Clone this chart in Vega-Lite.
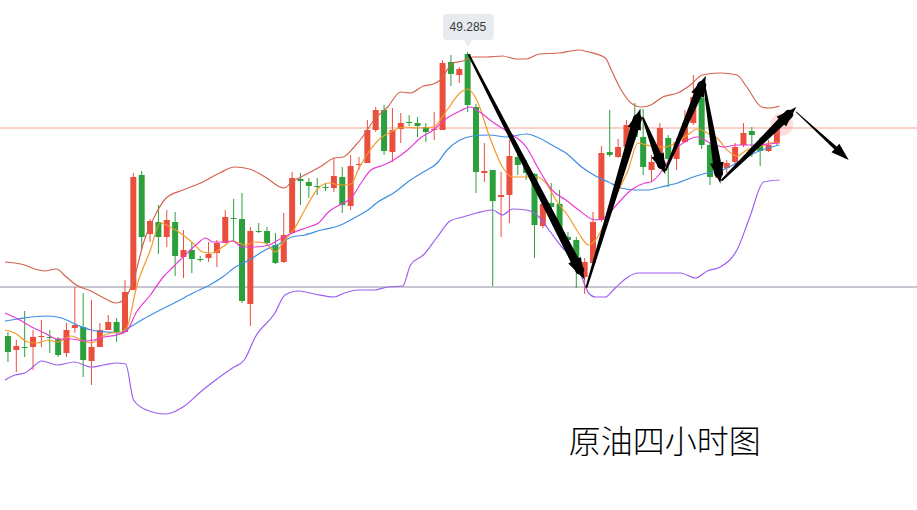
{
"$schema":"https://vega.github.io/schema/vega-lite/v6.json",
"width":917,"height":510,"padding":0,"autosize":{"type":"none"},"background":"white",
"config":{"view":{"stroke":null}},
"resolve":{"scale":{"color":"independent","size":"independent"}},
"datasets":{
"levels":[{"lvl":"resist","v":48.525},{"lvl":"support","v":46.935}],
"candles":[
{"i":0,"o":46.445,"h":46.485,"l":46.185,"c":46.285},{"i":1,"o":46.305,"h":46.405,"l":46.085,"c":46.345},{"i":2,"o":46.335,"h":46.695,"l":46.235,"c":46.325},{"i":3,"o":46.335,"h":46.505,"l":46.105,"c":46.435},{"i":4,"o":46.435,"h":46.605,"l":46.335,"c":46.445},{"i":5,"o":46.435,"h":46.505,"l":46.275,"c":46.425},{"i":6,"o":46.415,"h":46.435,"l":46.235,"c":46.255},{"i":7,"o":46.275,"h":46.575,"l":46.235,"c":46.505},{"i":8,"o":46.525,"h":46.935,"l":46.475,"c":46.555},{"i":9,"o":46.535,"h":46.875,"l":46.035,"c":46.205},
{"i":10,"o":46.195,"h":46.805,"l":45.955,"c":46.335},{"i":11,"o":46.335,"h":46.575,"l":46.335,"c":46.505},{"i":12,"o":46.505,"h":46.655,"l":46.505,"c":46.585},{"i":13,"o":46.585,"h":46.625,"l":46.385,"c":46.485},{"i":14,"o":46.485,"h":47.005,"l":46.485,"c":46.885},{"i":15,"o":46.905,"h":48.075,"l":46.905,"c":48.035},{"i":16,"o":48.055,"h":48.095,"l":47.305,"c":47.435},{"i":17,"o":47.465,"h":47.615,"l":47.385,"c":47.595},{"i":18,"o":47.585,"h":47.755,"l":47.265,"c":47.435},{"i":19,"o":47.435,"h":47.705,"l":47.335,"c":47.605},
{"i":20,"o":47.585,"h":47.685,"l":47.045,"c":47.245},{"i":21,"o":47.235,"h":47.505,"l":47.025,"c":47.305},{"i":22,"o":47.305,"h":47.385,"l":47.075,"c":47.215},{"i":23,"o":47.215,"h":47.245,"l":47.185,"c":47.205},{"i":24,"o":47.225,"h":47.385,"l":47.185,"c":47.265},{"i":25,"o":47.275,"h":47.405,"l":47.135,"c":47.375},{"i":26,"o":47.375,"h":47.705,"l":47.375,"c":47.635},{"i":27,"o":47.625,"h":47.815,"l":47.385,"c":47.615},{"i":28,"o":47.615,"h":47.875,"l":46.775,"c":46.795},{"i":29,"o":46.765,"h":47.535,"l":46.545,"c":47.495},
{"i":30,"o":47.495,"h":47.575,"l":47.475,"c":47.485},{"i":31,"o":47.495,"h":47.535,"l":47.355,"c":47.375},{"i":32,"o":47.355,"h":47.475,"l":47.165,"c":47.175},{"i":33,"o":47.185,"h":47.675,"l":47.175,"c":47.455},{"i":34,"o":47.475,"h":48.085,"l":47.475,"c":48.025},{"i":35,"o":48.015,"h":48.075,"l":47.755,"c":47.995},{"i":36,"o":47.985,"h":48.025,"l":47.825,"c":47.945},{"i":37,"o":47.945,"h":48.025,"l":47.855,"c":47.935},{"i":38,"o":47.935,"h":47.975,"l":47.895,"c":47.925},{"i":39,"o":47.925,"h":48.225,"l":47.885,"c":48.045},
{"i":40,"o":48.035,"h":48.135,"l":47.675,"c":47.755},{"i":41,"o":47.745,"h":48.255,"l":47.705,"c":48.145},{"i":42,"o":48.155,"h":48.235,"l":48.105,"c":48.165},{"i":43,"o":48.175,"h":48.605,"l":48.175,"c":48.505},{"i":44,"o":48.505,"h":48.735,"l":48.485,"c":48.705},{"i":45,"o":48.705,"h":48.755,"l":48.255,"c":48.295},{"i":46,"o":48.285,"h":48.725,"l":48.185,"c":48.505},{"i":47,"o":48.515,"h":48.675,"l":48.375,"c":48.575},{"i":48,"o":48.585,"h":48.655,"l":48.545,"c":48.575},{"i":49,"o":48.575,"h":48.635,"l":48.435,"c":48.545},
{"i":50,"o":48.535,"h":48.575,"l":48.385,"c":48.485},{"i":51,"o":48.505,"h":48.685,"l":48.405,"c":48.515},{"i":52,"o":48.505,"h":49.205,"l":48.505,"c":49.175},{"i":53,"o":49.185,"h":49.255,"l":48.945,"c":49.065},{"i":54,"o":49.055,"h":49.135,"l":48.975,"c":49.115},{"i":55,"o":49.265,"h":49.285,"l":48.685,"c":48.755},{"i":56,"o":48.735,"h":48.765,"l":47.875,"c":48.085},{"i":57,"o":48.075,"h":48.375,"l":47.985,"c":48.095},{"i":58,"o":48.105,"h":48.105,"l":46.945,"c":47.795},{"i":59,"o":47.835,"h":48.085,"l":47.435,"c":47.855},
{"i":60,"o":47.855,"h":48.405,"l":47.575,"c":48.245},{"i":61,"o":48.235,"h":48.335,"l":48.055,"c":48.155},{"i":62,"o":48.135,"h":48.205,"l":48.005,"c":48.075},{"i":63,"o":48.065,"h":48.075,"l":47.225,"c":47.555},{"i":64,"o":47.545,"h":47.805,"l":47.525,"c":47.765},{"i":65,"o":47.775,"h":47.975,"l":47.605,"c":47.735},{"i":66,"o":47.765,"h":47.905,"l":47.455,"c":47.485},{"i":67,"o":47.435,"h":47.485,"l":47.305,"c":47.405},{"i":68,"o":47.405,"h":47.435,"l":46.925,"c":47.125},{"i":69,"o":47.035,"h":47.225,"l":46.865,"c":47.185},
{"i":70,"o":47.175,"h":47.685,"l":47.175,"c":47.585},{"i":71,"o":47.605,"h":48.345,"l":47.585,"c":48.275},{"i":72,"o":48.285,"h":48.705,"l":48.235,"c":48.255},{"i":73,"o":48.235,"h":48.415,"l":48.225,"c":48.335},{"i":74,"o":48.335,"h":48.605,"l":48.305,"c":48.555},{"i":75,"o":48.535,"h":48.775,"l":48.405,"c":48.435},{"i":76,"o":48.435,"h":48.715,"l":48.055,"c":48.135},{"i":77,"o":48.105,"h":48.255,"l":47.985,"c":48.185},{"i":78,"o":48.205,"h":48.575,"l":48.185,"c":48.525},{"i":79,"o":48.425,"h":48.455,"l":47.935,"c":48.215},
{"i":80,"o":48.215,"h":48.425,"l":48.105,"c":48.385},{"i":81,"o":48.385,"h":48.705,"l":48.375,"c":48.575},{"i":82,"o":48.575,"h":49.055,"l":48.555,"c":48.835},{"i":83,"o":48.825,"h":48.935,"l":48.315,"c":48.355},{"i":84,"o":48.355,"h":48.375,"l":47.955,"c":48.035},{"i":85,"o":48.025,"h":48.155,"l":48.005,"c":48.105},{"i":86,"o":48.125,"h":48.205,"l":48.075,"c":48.175},{"i":87,"o":48.185,"h":48.375,"l":48.155,"c":48.335},{"i":88,"o":48.355,"h":48.575,"l":48.335,"c":48.475},{"i":89,"o":48.495,"h":48.535,"l":48.235,"c":48.455},
{"i":90,"o":48.375,"h":48.435,"l":48.145,"c":48.295},{"i":91,"o":48.295,"h":48.405,"l":48.285,"c":48.355},{"i":92,"o":48.375,"h":48.585,"l":48.355,"c":48.535}
],
"bands":[
{"s":"upper","i":-0.36,"v":47.185},{"s":"upper","i":0.83,"v":47.175},{"s":"upper","i":2.01,"v":47.155},{"s":"upper","i":3.2,"v":47.115},{"s":"upper","i":4.38,"v":47.095},{"s":"upper","i":5.8,"v":47.115},{"s":"upper","i":6.98,"v":47.035},{"s":"upper","i":8.17,"v":46.955},{"s":"upper","i":9.94,"v":46.895},{"s":"upper","i":11.48,"v":46.825},{"s":"upper","i":12.9,"v":46.775},{"s":"upper","i":13.85,"v":46.805},{"s":"upper","i":15.03,"v":47.005},{"s":"upper","i":16.21,"v":47.375},{"s":"upper","i":17.75,"v":47.675},{"s":"upper","i":18.93,"v":47.825},{"s":"upper","i":20.95,"v":47.905},{"s":"upper","i":23.31,"v":47.985},{"s":"upper","i":25.33,"v":48.075},{"s":"upper","i":27.1,"v":48.135},{"s":"upper","i":28.88,"v":48.115},{"s":"upper","i":30.77,"v":48.035},{"s":"upper","i":33.02,"v":47.925},{"s":"upper","i":33.96,"v":47.985},{"s":"upper","i":35.98,"v":48.075},{"s":"upper","i":37.51,"v":48.145},{"s":"upper","i":39.05,"v":48.225},{"s":"upper","i":40.12,"v":48.235},{"s":"upper","i":41.42,"v":48.335},{"s":"upper","i":42.6,"v":48.455},{"s":"upper","i":43.79,"v":48.605},{"s":"upper","i":45.44,"v":48.735},{"s":"upper","i":46.98,"v":48.885},{"s":"upper","i":48.17,"v":48.875},{"s":"upper","i":49.7,"v":48.945},{"s":"upper","i":50.89,"v":48.965},{"s":"upper","i":51.72,"v":49.005},{"s":"upper","i":53.25,"v":49.175},{"s":"upper","i":54.44,"v":49.195},{"s":"upper","i":55.62,"v":49.235},{"s":"upper","i":57.28,"v":49.235},{"s":"upper","i":59.17,"v":49.245},{"s":"upper","i":60.83,"v":49.215},{"s":"upper","i":62.01,"v":49.215},{"s":"upper","i":63.55,"v":49.265},{"s":"upper","i":65.92,"v":49.275},{"s":"upper","i":68.28,"v":49.305},{"s":"upper","i":69.47,"v":49.285},{"s":"upper","i":71.48,"v":49.225},{"s":"upper","i":72.19,"v":49.105},{"s":"upper","i":73.37,"v":48.905},{"s":"upper","i":74.56,"v":48.775},{"s":"upper","i":75.74,"v":48.735},{"s":"upper","i":76.92,"v":48.755},{"s":"upper","i":78.34,"v":48.835},{"s":"upper","i":80.12,"v":48.875},{"s":"upper","i":81.66,"v":48.955},{"s":"upper","i":83.08,"v":49.055},{"s":"upper","i":85.21,"v":49.075},{"s":"upper","i":87.22,"v":49.055},{"s":"upper","i":88.4,"v":48.935},{"s":"upper","i":90.18,"v":48.735},{"s":"upper","i":91.12,"v":48.725},{"s":"upper","i":92.31,"v":48.745},
{"s":"mid","i":-0.36,"v":46.595},{"s":"mid","i":1.18,"v":46.615},{"s":"mid","i":2.84,"v":46.635},{"s":"mid","i":4.73,"v":46.645},{"s":"mid","i":6.39,"v":46.625},{"s":"mid","i":8.28,"v":46.555},{"s":"mid","i":9.94,"v":46.505},{"s":"mid","i":11.83,"v":46.485},{"s":"mid","i":13.49,"v":46.475},{"s":"mid","i":14.44,"v":46.525},{"s":"mid","i":16.21,"v":46.615},{"s":"mid","i":18.22,"v":46.705},{"s":"mid","i":20.12,"v":46.785},{"s":"mid","i":22.13,"v":46.875},{"s":"mid","i":24.14,"v":46.955},{"s":"mid","i":25.68,"v":47.035},{"s":"mid","i":27.22,"v":47.135},{"s":"mid","i":28.88,"v":47.205},{"s":"mid","i":30.77,"v":47.305},{"s":"mid","i":32.43,"v":47.365},{"s":"mid","i":33.96,"v":47.435},{"s":"mid","i":35.5,"v":47.455},{"s":"mid","i":37.51,"v":47.505},{"s":"mid","i":39.53,"v":47.545},{"s":"mid","i":41.42,"v":47.625},{"s":"mid","i":43.08,"v":47.705},{"s":"mid","i":44.26,"v":47.785},{"s":"mid","i":46.15,"v":47.875},{"s":"mid","i":48.17,"v":48.005},{"s":"mid","i":49.7,"v":48.085},{"s":"mid","i":51.36,"v":48.175},{"s":"mid","i":52.54,"v":48.305},{"s":"mid","i":54.08,"v":48.405},{"s":"mid","i":55.62,"v":48.445},{"s":"mid","i":57.63,"v":48.455},{"s":"mid","i":59.64,"v":48.435},{"s":"mid","i":62.01,"v":48.465},{"s":"mid","i":63.55,"v":48.425},{"s":"mid","i":65.09,"v":48.355},{"s":"mid","i":66.75,"v":48.275},{"s":"mid","i":68.64,"v":48.135},{"s":"mid","i":70.3,"v":48.045},{"s":"mid","i":71.83,"v":47.985},{"s":"mid","i":73.37,"v":47.925},{"s":"mid","i":75.03,"v":47.905},{"s":"mid","i":76.57,"v":47.905},{"s":"mid","i":78.11,"v":47.935},{"s":"mid","i":80.12,"v":47.975},{"s":"mid","i":81.66,"v":48.025},{"s":"mid","i":83.67,"v":48.075},{"s":"mid","i":85.21,"v":48.095},{"s":"mid","i":86.04,"v":48.125},{"s":"mid","i":87.81,"v":48.205},{"s":"mid","i":89.59,"v":48.285},{"s":"mid","i":92.31,"v":48.355},
{"s":"lower","i":-0.36,"v":46.005},{"s":"lower","i":0.83,"v":46.055},{"s":"lower","i":2.01,"v":46.075},{"s":"lower","i":2.84,"v":46.125},{"s":"lower","i":4.02,"v":46.195},{"s":"lower","i":5.92,"v":46.155},{"s":"lower","i":7.93,"v":46.185},{"s":"lower","i":9.94,"v":46.135},{"s":"lower","i":11.48,"v":46.155},{"s":"lower","i":13.02,"v":46.175},{"s":"lower","i":14.08,"v":46.165},{"s":"lower","i":15.03,"v":45.805},{"s":"lower","i":16.57,"v":45.705},{"s":"lower","i":18.93,"v":45.665},{"s":"lower","i":20.95,"v":45.735},{"s":"lower","i":23.31,"v":45.905},{"s":"lower","i":25.33,"v":46.035},{"s":"lower","i":26.86,"v":46.125},{"s":"lower","i":28.28,"v":46.205},{"s":"lower","i":29.59,"v":46.435},{"s":"lower","i":31.95,"v":46.675},{"s":"lower","i":33.14,"v":46.855},{"s":"lower","i":34.79,"v":46.895},{"s":"lower","i":36.69,"v":46.865},{"s":"lower","i":39.05,"v":46.835},{"s":"lower","i":40.24,"v":46.875},{"s":"lower","i":41.89,"v":46.905},{"s":"lower","i":43.79,"v":46.905},{"s":"lower","i":45.44,"v":46.935},{"s":"lower","i":47.22,"v":46.945},{"s":"lower","i":48.17,"v":47.155},{"s":"lower","i":49.7,"v":47.255},{"s":"lower","i":51.36,"v":47.435},{"s":"lower","i":52.9,"v":47.595},{"s":"lower","i":54.44,"v":47.635},{"s":"lower","i":56.09,"v":47.675},{"s":"lower","i":57.99,"v":47.705},{"s":"lower","i":59.17,"v":47.655},{"s":"lower","i":60.36,"v":47.715},{"s":"lower","i":62.01,"v":47.705},{"s":"lower","i":63.55,"v":47.635},{"s":"lower","i":64.73,"v":47.505},{"s":"lower","i":66.27,"v":47.335},{"s":"lower","i":67.93,"v":47.175},{"s":"lower","i":68.64,"v":47.035},{"s":"lower","i":69.47,"v":46.875},{"s":"lower","i":70.3,"v":46.835},{"s":"lower","i":71.48,"v":46.835},{"s":"lower","i":72.66,"v":46.925},{"s":"lower","i":74.2,"v":47.035},{"s":"lower","i":75.38,"v":47.075},{"s":"lower","i":78.58,"v":47.075},{"s":"lower","i":80.47,"v":47.075},{"s":"lower","i":82.25,"v":47.025},{"s":"lower","i":83.67,"v":47.095},{"s":"lower","i":85.21,"v":47.135},{"s":"lower","i":87.22,"v":47.305},{"s":"lower","i":88.76,"v":47.635},{"s":"lower","i":90.41,"v":47.985},{"s":"lower","i":92.31,"v":48.005},
{"s":"ma5","i":-0.36,"v":46.505},{"s":"ma5","i":0.83,"v":46.475},{"s":"ma5","i":2.37,"v":46.385},{"s":"ma5","i":3.55,"v":46.375},{"s":"ma5","i":4.73,"v":46.405},{"s":"ma5","i":5.92,"v":46.385},{"s":"ma5","i":7.57,"v":46.445},{"s":"ma5","i":8.76,"v":46.405},{"s":"ma5","i":9.94,"v":46.375},{"s":"ma5","i":11.12,"v":46.435},{"s":"ma5","i":12.31,"v":46.475},{"s":"ma5","i":13.49,"v":46.485},{"s":"ma5","i":14.2,"v":46.525},{"s":"ma5","i":15.38,"v":46.935},{"s":"ma5","i":17.04,"v":47.305},{"s":"ma5","i":18.22,"v":47.575},{"s":"ma5","i":19.41,"v":47.535},{"s":"ma5","i":20.95,"v":47.455},{"s":"ma5","i":22.13,"v":47.375},{"s":"ma5","i":23.31,"v":47.285},{"s":"ma5","i":24.5,"v":47.275},{"s":"ma5","i":25.68,"v":47.335},{"s":"ma5","i":26.86,"v":47.395},{"s":"ma5","i":28.4,"v":47.355},{"s":"ma5","i":29.59,"v":47.385},{"s":"ma5","i":30.77,"v":47.375},{"s":"ma5","i":31.95,"v":47.285},{"s":"ma5","i":33.14,"v":47.405},{"s":"ma5","i":34.32,"v":47.525},{"s":"ma5","i":35.5,"v":47.705},{"s":"ma5","i":37.16,"v":47.925},{"s":"ma5","i":38.34,"v":47.975},{"s":"ma5","i":39.88,"v":47.955},{"s":"ma5","i":41.07,"v":47.965},{"s":"ma5","i":41.89,"v":48.105},{"s":"ma5","i":43.08,"v":48.275},{"s":"ma5","i":44.62,"v":48.425},{"s":"ma5","i":45.8,"v":48.485},{"s":"ma5","i":47.34,"v":48.535},{"s":"ma5","i":48.99,"v":48.525},{"s":"ma5","i":50.89,"v":48.535},{"s":"ma5","i":52.54,"v":48.705},{"s":"ma5","i":54.08,"v":48.875},{"s":"ma5","i":55.03,"v":48.915},{"s":"ma5","i":56.09,"v":48.805},{"s":"ma5","i":57.63,"v":48.435},{"s":"ma5","i":59.17,"v":48.135},{"s":"ma5","i":60.36,"v":48.035},{"s":"ma5","i":61.54,"v":48.035},{"s":"ma5","i":63.2,"v":48.035},{"s":"ma5","i":64.38,"v":47.975},{"s":"ma5","i":65.56,"v":47.805},{"s":"ma5","i":67.1,"v":47.635},{"s":"ma5","i":68.28,"v":47.475},{"s":"ma5","i":69.47,"v":47.355},{"s":"ma5","i":70.3,"v":47.405},{"s":"ma5","i":72.66,"v":47.835},{"s":"ma5","i":74.2,"v":48.105},{"s":"ma5","i":75.38,"v":48.375},{"s":"ma5","i":76.92,"v":48.345},{"s":"ma5","i":78.58,"v":48.335},{"s":"ma5","i":80.12,"v":48.385},{"s":"ma5","i":81.3,"v":48.455},{"s":"ma5","i":82.49,"v":48.515},{"s":"ma5","i":83.67,"v":48.475},{"s":"ma5","i":84.85,"v":48.425},{"s":"ma5","i":86.04,"v":48.305},{"s":"ma5","i":87.22,"v":48.245},{"s":"ma5","i":88.4,"v":48.305},{"s":"ma5","i":89.94,"v":48.335},{"s":"ma5","i":91.12,"v":48.375},{"s":"ma5","i":92.31,"v":48.385},
{"s":"ma10","i":-0.36,"v":46.675},{"s":"ma10","i":1.18,"v":46.615},{"s":"ma10","i":2.84,"v":46.535},{"s":"ma10","i":4.38,"v":46.475},{"s":"ma10","i":5.92,"v":46.415},{"s":"ma10","i":7.57,"v":46.415},{"s":"ma10","i":9.11,"v":46.395},{"s":"ma10","i":10.3,"v":46.405},{"s":"ma10","i":11.48,"v":46.435},{"s":"ma10","i":13.02,"v":46.455},{"s":"ma10","i":14.2,"v":46.495},{"s":"ma10","i":15.38,"v":46.685},{"s":"ma10","i":17.04,"v":46.855},{"s":"ma10","i":18.58,"v":47.035},{"s":"ma10","i":19.76,"v":47.135},{"s":"ma10","i":20.95,"v":47.235},{"s":"ma10","i":22.49,"v":47.355},{"s":"ma10","i":23.67,"v":47.425},{"s":"ma10","i":24.5,"v":47.385},{"s":"ma10","i":25.68,"v":47.385},{"s":"ma10","i":26.86,"v":47.395},{"s":"ma10","i":28.05,"v":47.335},{"s":"ma10","i":29.59,"v":47.335},{"s":"ma10","i":31.24,"v":47.355},{"s":"ma10","i":32.78,"v":47.425},{"s":"ma10","i":34.32,"v":47.485},{"s":"ma10","i":35.98,"v":47.535},{"s":"ma10","i":37.16,"v":47.575},{"s":"ma10","i":38.34,"v":47.685},{"s":"ma10","i":39.88,"v":47.765},{"s":"ma10","i":41.07,"v":47.825},{"s":"ma10","i":42.25,"v":47.975},{"s":"ma10","i":43.43,"v":48.105},{"s":"ma10","i":44.97,"v":48.155},{"s":"ma10","i":46.15,"v":48.205},{"s":"ma10","i":47.81,"v":48.305},{"s":"ma10","i":49.35,"v":48.425},{"s":"ma10","i":50.89,"v":48.505},{"s":"ma10","i":52.54,"v":48.625},{"s":"ma10","i":54.08,"v":48.695},{"s":"ma10","i":55.27,"v":48.735},{"s":"ma10","i":56.45,"v":48.685},{"s":"ma10","i":57.99,"v":48.585},{"s":"ma10","i":60.0,"v":48.475},{"s":"ma10","i":62.01,"v":48.335},{"s":"ma10","i":63.55,"v":48.105},{"s":"ma10","i":65.09,"v":47.905},{"s":"ma10","i":66.75,"v":47.805},{"s":"ma10","i":68.28,"v":47.705},{"s":"ma10","i":70.3,"v":47.605},{"s":"ma10","i":71.48,"v":47.635},{"s":"ma10","i":73.02,"v":47.775},{"s":"ma10","i":74.56,"v":47.905},{"s":"ma10","i":76.21,"v":47.975},{"s":"ma10","i":76.92,"v":47.985},{"s":"ma10","i":78.58,"v":48.135},{"s":"ma10","i":79.76,"v":48.305},{"s":"ma10","i":80.95,"v":48.385},{"s":"ma10","i":82.49,"v":48.435},{"s":"ma10","i":84.02,"v":48.375},{"s":"ma10","i":85.68,"v":48.335},{"s":"ma10","i":87.22,"v":48.355},{"s":"ma10","i":89.23,"v":48.355},{"s":"ma10","i":91.12,"v":48.365},{"s":"ma10","i":92.31,"v":48.375}
],
"arrows":[
{"a":"A1","end":"tail","i":55.15,"p":49.255},{"a":"A1","end":"head","i":68.4,"p":47.105},
{"a":"A2","end":"tail","i":69.23,"p":46.935},{"a":"A2","end":"head","i":75.31,"p":48.619},
{"a":"A3","end":"tail","i":75.98,"p":48.625},{"a":"A3","end":"head","i":78.19,"p":48.159},
{"a":"A4","end":"tail","i":78.7,"p":48.105},{"a":"A4","end":"head","i":83.01,"p":48.952},
{"a":"A5","end":"tail","i":83.31,"p":48.955},{"a":"A5","end":"head","i":85.03,"p":48.074},
{"a":"A6","end":"tail","i":85.44,"p":48.005},{"a":"A6","end":"head","i":93.43,"p":48.662},
{"a":"A7","end":"thintail","i":94.32,"p":48.685},{"a":"A7","end":"thinhead","i":99.8,"p":48.265}
],
"tag":[{"t":"49.285","x1":52.07,"x2":58.11,"y1":49.665,"y2":49.405,"xm":55.03,"ym":49.535,"py":49.37}],
"title":[{"t":"原油四小时图","i":78.58,"p":45.375}],
"glow":[{"i":92.6,"p":48.56}]
},
"layer":[
{"data":{"name":"levels"},"mark":{"type":"rule","strokeWidth":1},
 "encoding":{"y":{"field":"v","type":"quantitative","scale":{"domain":[44.705,49.805],"nice":false,"zero":false},"axis":null},
 "color":{"field":"lvl","type":"nominal","scale":{"domain":["resist","support"],"range":["#f2a497","#8e8fa0"]},"legend":null}}},
{"data":{"name":"candles"},"mark":{"type":"rule","strokeWidth":1},
 "encoding":{"x":{"field":"i","type":"quantitative","scale":{"domain":[-0.355,108.166],"nice":false,"zero":false},"axis":null},
 "y":{"field":"l","type":"quantitative","scale":{"domain":[44.705,49.805],"nice":false,"zero":false},"axis":null},"y2":{"field":"h"},
 "color":{"condition":{"test":"datum.c >= datum.o","value":"#ea4f3d"},"value":"#2ba03c"}}},
{"data":{"name":"candles"},"mark":{"type":"bar","size":6},
 "encoding":{"x":{"field":"i","type":"quantitative","scale":{"domain":[-0.355,108.166],"nice":false,"zero":false},"axis":null},
 "y":{"field":"o","type":"quantitative","scale":{"domain":[44.705,49.805],"nice":false,"zero":false},"axis":null},"y2":{"field":"c"},
 "color":{"condition":{"test":"datum.c >= datum.o","value":"#ea4f3d"},"value":"#2ba03c"}}},
{"data":{"name":"bands"},"mark":{"type":"line","strokeWidth":1.2,"interpolate":"monotone"},
 "encoding":{"x":{"field":"i","type":"quantitative","scale":{"domain":[-0.355,108.166],"nice":false,"zero":false},"axis":null},
 "y":{"field":"v","type":"quantitative","scale":{"domain":[44.705,49.805],"nice":false,"zero":false},"axis":null},
 "color":{"field":"s","type":"nominal","scale":{"domain":["upper","mid","lower","ma5","ma10"],"range":["#d4654f","#3d8fe3","#9d5ff2","#f59a2a","#e93bd6"]},"legend":null}}},
{"data":{"name":"glow"},"mark":{"type":"point","filled":true,"size":500,"color":"#ff7777","opacity":0.25,"strokeWidth":0},
 "encoding":{"x":{"field":"i","type":"quantitative","scale":{"domain":[-0.355,108.166],"nice":false,"zero":false},"axis":null},
 "y":{"field":"p","type":"quantitative","scale":{"domain":[44.705,49.805],"nice":false,"zero":false},"axis":null}}},
{"data":{"name":"tag"},"mark":{"type":"rect","fill":"#e7eaee","cornerRadius":3},
 "encoding":{"x":{"field":"x1","type":"quantitative","scale":{"domain":[-0.355,108.166],"nice":false,"zero":false},"axis":null},"x2":{"field":"x2"},
 "y":{"field":"y1","type":"quantitative","scale":{"domain":[44.705,49.805],"nice":false,"zero":false},"axis":null},"y2":{"field":"y2"}}},
{"data":{"name":"tag"},"mark":{"type":"point","shape":"triangle-down","filled":true,"size":60,"color":"#e7eaee","opacity":1,"strokeWidth":0},
 "encoding":{"x":{"field":"xm","type":"quantitative","scale":{"domain":[-0.355,108.166],"nice":false,"zero":false},"axis":null},
 "y":{"field":"py","type":"quantitative","scale":{"domain":[44.705,49.805],"nice":false,"zero":false},"axis":null}}},
{"data":{"name":"tag"},"mark":{"type":"text","fontSize":12,"font":"Liberation Sans","color":"#3a3a3a","align":"center","baseline":"middle"},
 "encoding":{"x":{"field":"xm","type":"quantitative","scale":{"domain":[-0.355,108.166],"nice":false,"zero":false},"axis":null},
 "y":{"field":"ym","type":"quantitative","scale":{"domain":[44.705,49.805],"nice":false,"zero":false},"axis":null},"text":{"field":"t"}}},
{"data":{"name":"arrows"},"mark":{"type":"trail","color":"#000000"},
 "encoding":{"x":{"field":"i","type":"quantitative","scale":{"domain":[-0.355,108.166],"nice":false,"zero":false},"axis":null},
 "y":{"field":"p","type":"quantitative","scale":{"domain":[44.705,49.805],"nice":false,"zero":false},"axis":null},
 "detail":{"field":"a","type":"nominal"},
 "size":{"field":"end","type":"nominal","scale":{"type":"ordinal","domain":["tail","head","thintail","thinhead"],"range":[2,9,1,4]},"legend":null}}},
{"data":{"name":"arrows"},"transform":[{"filter":"datum.a == 'A1' && datum.end == 'head'"}],"mark":{"type":"point","shape":"M-0.65,1L0,-1L0.65,1Z","filled":true,"color":"#000000","opacity":1,"size":480,"angle":152.5,"strokeWidth":0},
 "encoding":{"x":{"field":"i","type":"quantitative","scale":{"domain":[-0.355,108.166],"nice":false,"zero":false},"axis":null},"y":{"field":"p","type":"quantitative","scale":{"domain":[44.705,49.805],"nice":false,"zero":false},"axis":null}}},
{"data":{"name":"arrows"},"transform":[{"filter":"datum.a == 'A2' && datum.end == 'head'"}],"mark":{"type":"point","shape":"M-0.65,1L0,-1L0.65,1Z","filled":true,"color":"#000000","opacity":1,"size":440,"angle":17,"strokeWidth":0},
 "encoding":{"x":{"field":"i","type":"quantitative","scale":{"domain":[-0.355,108.166],"nice":false,"zero":false},"axis":null},"y":{"field":"p","type":"quantitative","scale":{"domain":[44.705,49.805],"nice":false,"zero":false},"axis":null}}},
{"data":{"name":"arrows"},"transform":[{"filter":"datum.a == 'A3' && datum.end == 'head'"}],"mark":{"type":"point","shape":"M-0.65,1L0,-1L0.65,1Z","filled":true,"color":"#000000","opacity":1,"size":420,"angle":158,"strokeWidth":0},
 "encoding":{"x":{"field":"i","type":"quantitative","scale":{"domain":[-0.355,108.166],"nice":false,"zero":false},"axis":null},"y":{"field":"p","type":"quantitative","scale":{"domain":[44.705,49.805],"nice":false,"zero":false},"axis":null}}},
{"data":{"name":"arrows"},"transform":[{"filter":"datum.a == 'A4' && datum.end == 'head'"}],"mark":{"type":"point","shape":"M-0.65,1L0,-1L0.65,1Z","filled":true,"color":"#000000","opacity":1,"size":440,"angle":23.3,"strokeWidth":0},
 "encoding":{"x":{"field":"i","type":"quantitative","scale":{"domain":[-0.355,108.166],"nice":false,"zero":false},"axis":null},"y":{"field":"p","type":"quantitative","scale":{"domain":[44.705,49.805],"nice":false,"zero":false},"axis":null}}},
{"data":{"name":"arrows"},"transform":[{"filter":"datum.a == 'A5' && datum.end == 'head'"}],"mark":{"type":"point","shape":"M-0.65,1L0,-1L0.65,1Z","filled":true,"color":"#000000","opacity":1,"size":440,"angle":170.6,"strokeWidth":0},
 "encoding":{"x":{"field":"i","type":"quantitative","scale":{"domain":[-0.355,108.166],"nice":false,"zero":false},"axis":null},"y":{"field":"p","type":"quantitative","scale":{"domain":[44.705,49.805],"nice":false,"zero":false},"axis":null}}},
{"data":{"name":"arrows"},"transform":[{"filter":"datum.a == 'A6' && datum.end == 'head'"}],"mark":{"type":"point","shape":"M-0.65,1L0,-1L0.65,1Z","filled":true,"color":"#000000","opacity":1,"size":440,"angle":45.8,"strokeWidth":0},
 "encoding":{"x":{"field":"i","type":"quantitative","scale":{"domain":[-0.355,108.166],"nice":false,"zero":false},"axis":null},"y":{"field":"p","type":"quantitative","scale":{"domain":[44.705,49.805],"nice":false,"zero":false},"axis":null}}},
{"data":{"name":"arrows"},"transform":[{"filter":"datum.a == 'A7' && datum.end == 'thinhead'"}],"mark":{"type":"point","shape":"M-0.65,1L0,-1L0.65,1Z","filled":true,"color":"#000000","opacity":1,"size":320,"angle":132.2,"strokeWidth":0},
 "encoding":{"x":{"field":"i","type":"quantitative","scale":{"domain":[-0.355,108.166],"nice":false,"zero":false},"axis":null},"y":{"field":"p","type":"quantitative","scale":{"domain":[44.705,49.805],"nice":false,"zero":false},"axis":null}}},
{"data":{"name":"title"},"mark":{"type":"text","fontSize":32,"font":"Noto Sans CJK SC","fontWeight":300,"color":"#000000","align":"center","baseline":"middle"},
 "encoding":{"x":{"field":"i","type":"quantitative","scale":{"domain":[-0.355,108.166],"nice":false,"zero":false},"axis":null},
 "y":{"field":"p","type":"quantitative","scale":{"domain":[44.705,49.805],"nice":false,"zero":false},"axis":null},"text":{"field":"t"}}}
]
}
